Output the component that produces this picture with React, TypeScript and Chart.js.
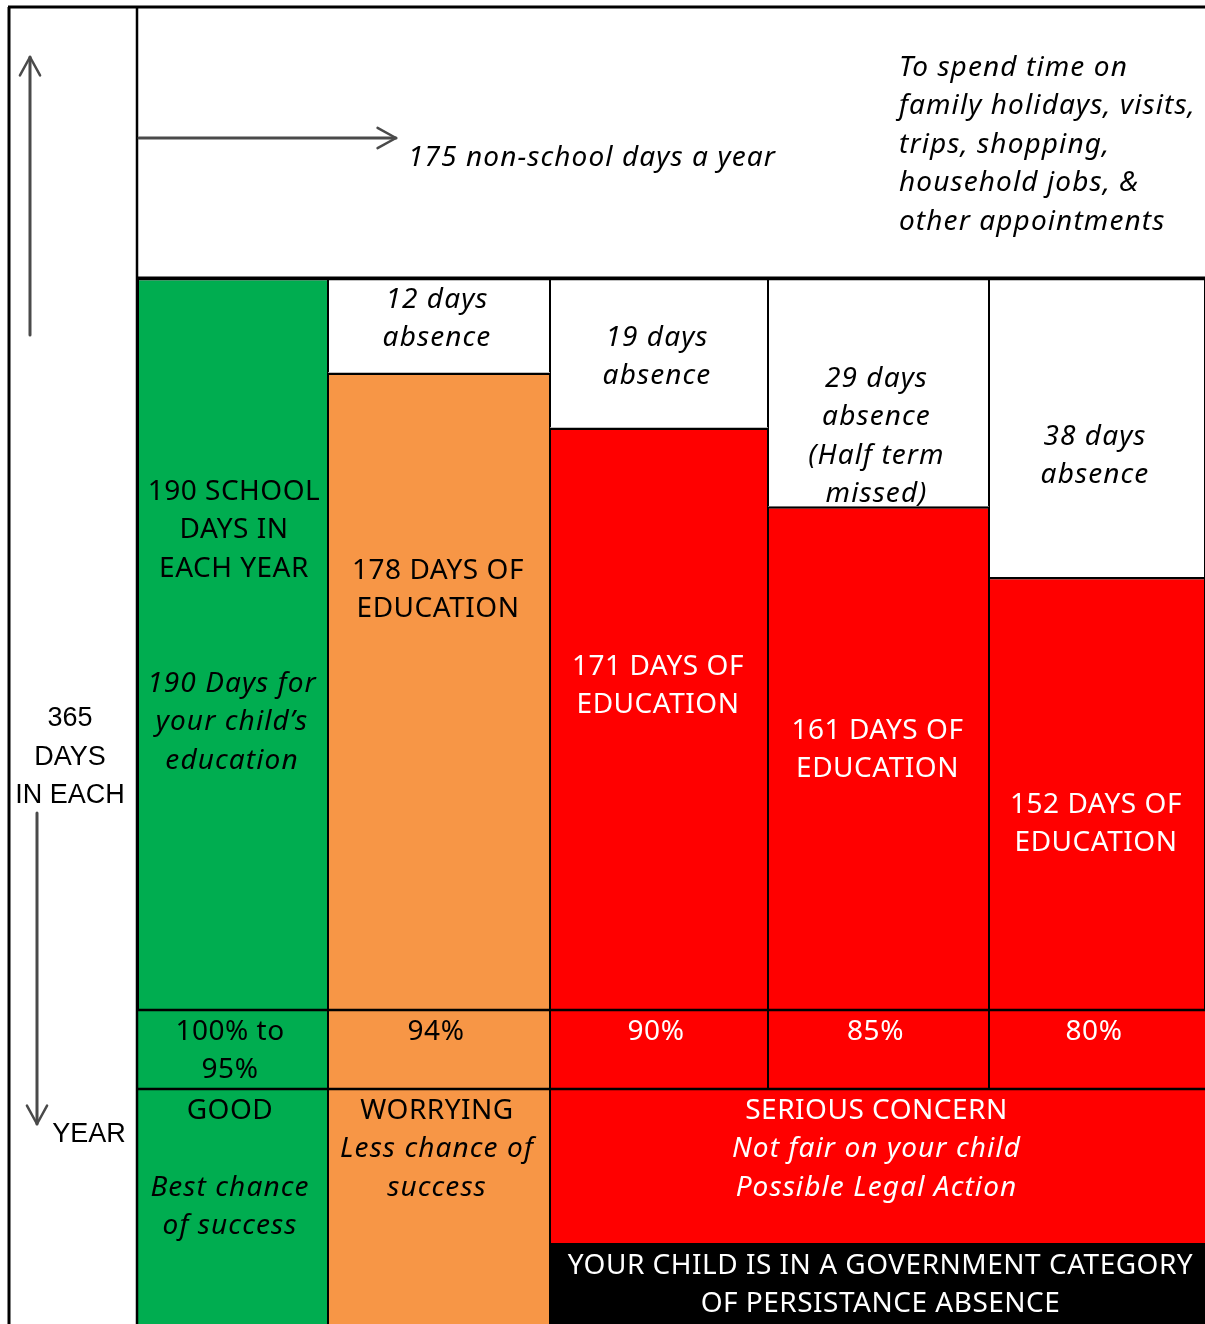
import React, { useEffect, useRef } from "react";
import { Chart, registerables } from "chart.js";

Chart.register(...registerables);

// ---------------- data ----------------
const attendanceLabels = ["100% to|95%", "94%", "90%", "85%", "80%"];
const educationDays = [190, 178, 171, 161, 152];
const absenceDays = [0, 12, 19, 29, 38];
const absenceNotes = ["", "", "", "(Half term|missed)", ""];
const statusTitles = ["GOOD", "WORRYING", "SERIOUS CONCERN"];
const statusNotes = [
  ["", "Best chance", "of success"],
  ["Less chance of", "success"],
  ["Not fair on your child", "Possible Legal Action"],
];
const SCHOOL_DAYS = 190;
const NON_SCHOOL_DAYS = 175;
const DAYS_IN_YEAR = 365;
const leisureNote = [
  "To spend time on",
  "family holidays, visits,",
  "trips, shopping,",
  "household jobs, &",
  "other appointments",
];
const schoolNote = ["190 Days for", "your child\u2019s", "education"];
const persistentNote = ["YOUR CHILD IS IN A GOVERNMENT CATEGORY", "OF PERSISTANCE ABSENCE"];

// ---------------- layout / style ----------------
const W = 1205;
const H = 1324;
const COL_W = [190, 222, 218, 221, 216];
const BAR_COLORS = ["#00ad50", "#f79646", "#ff0000", "#ff0000", "#ff0000"];
const TEXT_COLORS = ["#000", "#000", "#fff", "#fff", "#fff"];
const AREA = { left: 138, top: 278, bottom: 1010 };
const Y_MIN = 97;
const LH = 38.4;
const CAPS = '28px "Noto Sans"';
const ITAL = 'italic 28px "Noto Sans"';
const SIDE = '27px "Liberation Sans"';
const ARROW = "#4a4a4a";
const TEXT_SHIFT = 2;

const TOTAL_W = COL_W.reduce((a, b) => a + b, 0);
const cum: number[] = [0];
COL_W.forEach((w, i) => cum.push(cum[i] + w));

function drawLines(
  ctx: CanvasRenderingContext2D,
  arr: string[],
  x: number,
  y0: number,
  font: string,
  color: string,
  align: CanvasTextAlign = "center"
) {
  ctx.save();
  ctx.font = font;
  ctx.fillStyle = color;
  ctx.textAlign = align;
  ctx.textBaseline = "middle";
  const c: any = ctx;
  if (font === ITAL) c.letterSpacing = "1.1px";
  else if (font === CAPS) c.letterSpacing = "0.5px";
  else c.letterSpacing = "0px";
  arr.forEach((t, i) => {
    if (t) ctx.fillText(t, x, y0 + TEXT_SHIFT + i * LH);
  });
  ctx.restore();
}

function line(ctx: CanvasRenderingContext2D, x1: number, y1: number, x2: number, y2: number, w: number, c = "#000") {
  ctx.save();
  ctx.strokeStyle = c;
  ctx.lineWidth = w;
  ctx.beginPath();
  ctx.moveTo(x1, y1);
  ctx.lineTo(x2, y2);
  ctx.stroke();
  ctx.restore();
}

function arrow(ctx: CanvasRenderingContext2D, x1: number, y1: number, x2: number, y2: number) {
  const ang = Math.atan2(y2 - y1, x2 - x1);
  const L = 21;
  const a = 0.5;
  ctx.save();
  ctx.strokeStyle = ARROW;
  ctx.lineWidth = 3;
  ctx.lineCap = "round";
  ctx.lineJoin = "round";
  ctx.beginPath();
  ctx.moveTo(x1, y1);
  ctx.lineTo(x2, y2);
  ctx.stroke();
  ctx.lineWidth = 2.5;
  ctx.beginPath();
  ctx.moveTo(x2 - L * Math.cos(ang - a), y2 - L * Math.sin(ang - a));
  ctx.lineTo(x2, y2);
  ctx.lineTo(x2 - L * Math.cos(ang + a), y2 - L * Math.sin(ang + a));
  ctx.stroke();
  ctx.restore();
}

const infographicPlugin = {
  id: "infographic",
  afterDatasetsDraw(chart: any) {
    const ctx: CanvasRenderingContext2D = chart.ctx;
    const xs = chart.scales.x;
    const ys = chart.scales.y;
    const bx = cum.map((v) => xs.getPixelForValue(v));
    const top = ys.getPixelForValue(SCHOOL_DAYS);
    const bottom = chart.chartArea.bottom;
    const pctBottom = bottom + 79;
    const boxTop = pctBottom + 154;
    const right = W;

    // bottom table fills
    for (let i = 0; i < 5; i++) {
      ctx.fillStyle = BAR_COLORS[i];
      ctx.fillRect(bx[i], bottom, bx[i + 1] - bx[i], pctBottom - bottom);
    }
    ctx.fillStyle = BAR_COLORS[0];
    ctx.fillRect(bx[0], pctBottom, bx[1] - bx[0], H - pctBottom);
    ctx.fillStyle = BAR_COLORS[1];
    ctx.fillRect(bx[1], pctBottom, bx[2] - bx[1], H - pctBottom);
    ctx.fillStyle = BAR_COLORS[2];
    ctx.fillRect(bx[2], pctBottom, right - bx[2], boxTop - pctBottom);
    ctx.fillStyle = "#000";
    ctx.fillRect(bx[2], boxTop, right - bx[2], H - boxTop);

    // grid lines
    line(ctx, 8, 7, W, 7, 3);
    line(ctx, 9, 7, 9, H, 3);
    line(ctx, 137, 7, 137, H, 2.5);
    line(ctx, 137, top, W, top, 3);
    line(ctx, 137, bottom, W, bottom, 2.5);
    line(ctx, 137, pctBottom, W, pctBottom, 2.5);
    for (let i = 1; i < 5; i++) line(ctx, bx[i], bottom, bx[i], pctBottom, 2);
    line(ctx, bx[1], pctBottom, bx[1], H, 2);
    line(ctx, bx[2], pctBottom, bx[2], H, 2);

    // arrows
    arrow(ctx, 30, 335, 30, 57);
    arrow(ctx, 139, 138, 396, 138);
    arrow(ctx, 37, 813, 37, 1124);

    // left column text
    drawLines(ctx, [String(DAYS_IN_YEAR), "DAYS", "IN EACH"], 70, 717, SIDE, "#000");
    drawLines(ctx, ["YEAR"], 89, 1133, SIDE, "#000");

    // top region
    drawLines(ctx, [`${NON_SCHOOL_DAYS} non-school days a year`], 408, 156, ITAL, "#000", "left");
    drawLines(ctx, leisureNote, 899, 66, ITAL, "#000", "left");

    const cx = (i: number) => (bx[i] + bx[i + 1]) / 2;

    // green column
    drawLines(ctx, [`${SCHOOL_DAYS} SCHOOL`, "DAYS IN", "EACH YEAR"], cx(0) + 1, 490, CAPS, "#000");
    drawLines(ctx, schoolNote, cx(0) - 1, 682, ITAL, "#000");

    // education labels & absence labels
    const eduY = [0, 569, 665, 729, 803];
    const absY = [0, 298, 336, 377, 435];
    for (let i = 1; i < 5; i++) {
      drawLines(ctx, [`${educationDays[i]} DAYS OF`, "EDUCATION"], cx(i) - 1, eduY[i], CAPS, TEXT_COLORS[i]);
      const extra = absenceNotes[i] ? absenceNotes[i].split("|") : [];
      drawLines(ctx, [`${absenceDays[i]} days`, "absence", ...extra], cx(i) - 2, absY[i], ITAL, "#000");
    }

    // percentage row
    for (let i = 0; i < 5; i++) {
      drawLines(ctx, attendanceLabels[i].split("|"), cx(i) - 3, bottom + 20, CAPS, TEXT_COLORS[i]);
    }

    // status row
    drawLines(ctx, [statusTitles[0]], cx(0) - 3, pctBottom + 20, CAPS, "#000");
    drawLines(ctx, ["", ...statusNotes[0]], cx(0) - 3, pctBottom + 20, ITAL, "#000");
    drawLines(ctx, [statusTitles[1]], cx(1) - 2, pctBottom + 20, CAPS, "#000");
    drawLines(ctx, ["", ...statusNotes[1]], cx(1) - 2, pctBottom + 20, ITAL, "#000");
    const rc = (bx[2] + right) / 2;
    drawLines(ctx, [statusTitles[2]], rc - 1, pctBottom + 20, CAPS, "#fff");
    drawLines(ctx, ["", ...statusNotes[2]], rc - 1, pctBottom + 20, ITAL, "#fff");
    drawLines(ctx, persistentNote, rc + 3, boxTop + 21, CAPS, "#fff");
  },
};

export default function App() {
  const ref = useRef<HTMLCanvasElement | null>(null);
  useEffect(() => {
    if (!ref.current) return;
    const datasets: any[] = [];
    educationDays.forEach((v, i) => {
      const x = cum[i] + COL_W[i] / 2;
      const common = {
        borderColor: "#000",
        borderWidth: { top: 2.5, left: 1, right: 1, bottom: 0 },
        borderSkipped: false,
        barThickness: COL_W[i],
        grouped: false,
        stack: "col" + i,
        inflateAmount: 0,
      };
      datasets.push({
        ...common,
        label: "Days of education " + attendanceLabels[i],
        data: [{ x, y: v }],
        backgroundColor: BAR_COLORS[i],
        base: Y_MIN,
      });
      datasets.push({
        ...common,
        label: "Days of absence " + attendanceLabels[i],
        data: [{ x, y: absenceDays[i] }],
        backgroundColor: "#ffffff",
      });
    });
    const chart = new Chart(ref.current, {
      type: "bar",
      data: { datasets },
      options: {
        responsive: false,
        devicePixelRatio: 1,
        animation: false,
        layout: { padding: { left: AREA.left, top: AREA.top, right: 0, bottom: H - AREA.bottom } },
        plugins: { legend: { display: false }, tooltip: { enabled: false } },
        scales: {
          x: { type: "linear", min: 0, max: TOTAL_W, offset: false, display: false, stacked: true },
          y: { type: "linear", min: Y_MIN, max: SCHOOL_DAYS, display: false, stacked: true },
        },
      } as any,
      plugins: [infographicPlugin],
    });
    return () => chart.destroy();
  }, []);
  return (
    <div style={{ position: "absolute", left: 0, top: 0, width: W, height: H, background: "#fff" }}>
      <canvas ref={ref} width={W} height={H} style={{ display: "block", width: W, height: H }} />
    </div>
  );
}
